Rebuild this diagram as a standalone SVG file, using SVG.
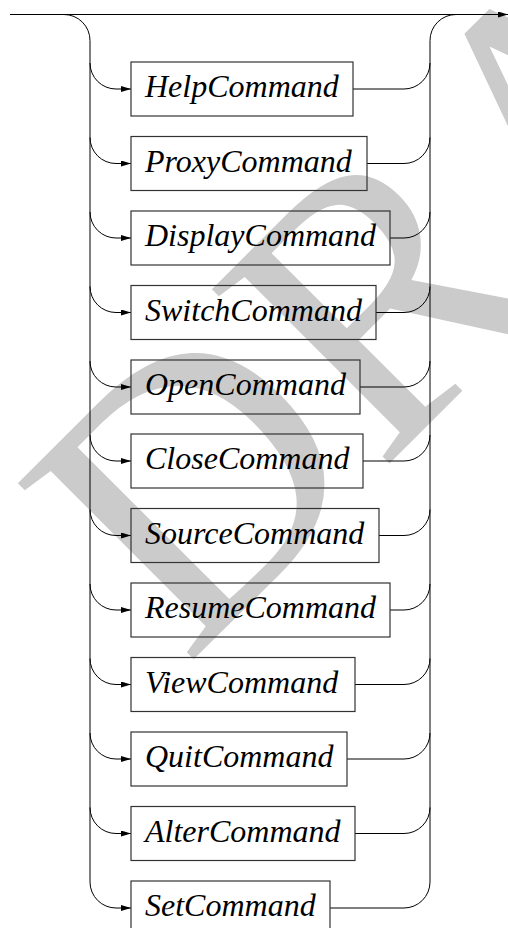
<svg xmlns="http://www.w3.org/2000/svg" width="508" height="928" viewBox="0 0 508 928">
<defs>
<marker id="arr" viewBox="0 0 10 6" refX="10" refY="3" markerWidth="10" markerHeight="6" markerUnits="userSpaceOnUse" orient="auto">
<path d="M0,0 L10,3 L0,6 z" fill="#000"/>
</marker>
<style>
.wm{font-family:'Liberation Serif',serif;font-size:380px;fill:#cbcbcb}
.ln{fill:none;stroke:#000;stroke-width:1}
.bx{fill:none;stroke:#333;stroke-width:1.2}
.lb{font-family:'Liberation Serif',serif;font-style:italic;font-size:32px;fill:#000}
</style>
</defs>
<rect width="508" height="928" fill="#fff"/>
<text class="wm" transform="translate(186,667) rotate(-45)">DRAFT</text>
<g id="connectors">
<path class="ln" d="M10,14.5 H508" marker-end="url(#arr)"/>
<path class="ln" d="M64,14.5 A26,26 0 0 1 90,40.5 V882"/>
<path class="ln" d="M456,14.5 A26,26 0 0 0 430,40.5 V882"/>
<path class="ln" d="M90,63 A26,26 0 0 0 116,89 H131" marker-end="url(#arr)"/>
<path class="ln" d="M353,89 H404 A26,26 0 0 0 430,63"/>
<path class="ln" d="M90,137.5 A26,26 0 0 0 116,163.5 H131" marker-end="url(#arr)"/>
<path class="ln" d="M367,163.5 H404 A26,26 0 0 0 430,137.5"/>
<path class="ln" d="M90,212 A26,26 0 0 0 116,238 H131" marker-end="url(#arr)"/>
<path class="ln" d="M390,238 H404 A26,26 0 0 0 430,212"/>
<path class="ln" d="M90,286.5 A26,26 0 0 0 116,312.5 H131" marker-end="url(#arr)"/>
<path class="ln" d="M376,312.5 H404 A26,26 0 0 0 430,286.5"/>
<path class="ln" d="M90,361 A26,26 0 0 0 116,387 H131" marker-end="url(#arr)"/>
<path class="ln" d="M360,387 H404 A26,26 0 0 0 430,361"/>
<path class="ln" d="M90,435 A26,26 0 0 0 116,461 H131" marker-end="url(#arr)"/>
<path class="ln" d="M363,461 H404 A26,26 0 0 0 430,435"/>
<path class="ln" d="M90,509.5 A26,26 0 0 0 116,535.5 H131" marker-end="url(#arr)"/>
<path class="ln" d="M379,535.5 H404 A26,26 0 0 0 430,509.5"/>
<path class="ln" d="M90,584 A26,26 0 0 0 116,610 H131" marker-end="url(#arr)"/>
<path class="ln" d="M390,610 H404 A26,26 0 0 0 430,584"/>
<path class="ln" d="M90,658.5 A26,26 0 0 0 116,684.5 H131" marker-end="url(#arr)"/>
<path class="ln" d="M355,684.5 H404 A26,26 0 0 0 430,658.5"/>
<path class="ln" d="M90,733 A26,26 0 0 0 116,759 H131" marker-end="url(#arr)"/>
<path class="ln" d="M347,759 H404 A26,26 0 0 0 430,733"/>
<path class="ln" d="M90,807.5 A26,26 0 0 0 116,833.5 H131" marker-end="url(#arr)"/>
<path class="ln" d="M355,833.5 H404 A26,26 0 0 0 430,807.5"/>
<path class="ln" d="M90,882 A26,26 0 0 0 116,908 H131" marker-end="url(#arr)"/>
<path class="ln" d="M330,908 H404 A26,26 0 0 0 430,882"/>
</g>
<g id="help"><rect class="bx" x="131" y="62" width="222" height="54"/><text class="lb" x="145" y="97">HelpCommand</text></g>
<g id="proxy"><rect class="bx" x="131" y="136.5" width="236" height="54"/><text class="lb" x="145" y="171.5">ProxyCommand</text></g>
<g id="display"><rect class="bx" x="131" y="211" width="259" height="54"/><text class="lb" x="145" y="246">DisplayCommand</text></g>
<g id="switch"><rect class="bx" x="131" y="285.5" width="245" height="54"/><text class="lb" x="145" y="320.5">SwitchCommand</text></g>
<g id="open"><rect class="bx" x="131" y="360" width="229" height="54"/><text class="lb" x="145" y="395">OpenCommand</text></g>
<g id="close"><rect class="bx" x="131" y="434" width="232" height="54"/><text class="lb" x="145" y="469">CloseCommand</text></g>
<g id="source"><rect class="bx" x="131" y="508.5" width="248" height="54"/><text class="lb" x="145" y="543.5">SourceCommand</text></g>
<g id="resume"><rect class="bx" x="131" y="583" width="259" height="54"/><text class="lb" x="145" y="618">ResumeCommand</text></g>
<g id="view"><rect class="bx" x="131" y="657.5" width="224" height="54"/><text class="lb" x="145" y="692.5">ViewCommand</text></g>
<g id="quit"><rect class="bx" x="131" y="732" width="216" height="54"/><text class="lb" x="145" y="767">QuitCommand</text></g>
<g id="alter"><rect class="bx" x="131" y="806.5" width="224" height="54"/><text class="lb" x="145" y="841.5">AlterCommand</text></g>
<g id="set"><rect class="bx" x="131" y="881" width="199" height="54"/><text class="lb" x="145" y="916">SetCommand</text></g>
</svg>
